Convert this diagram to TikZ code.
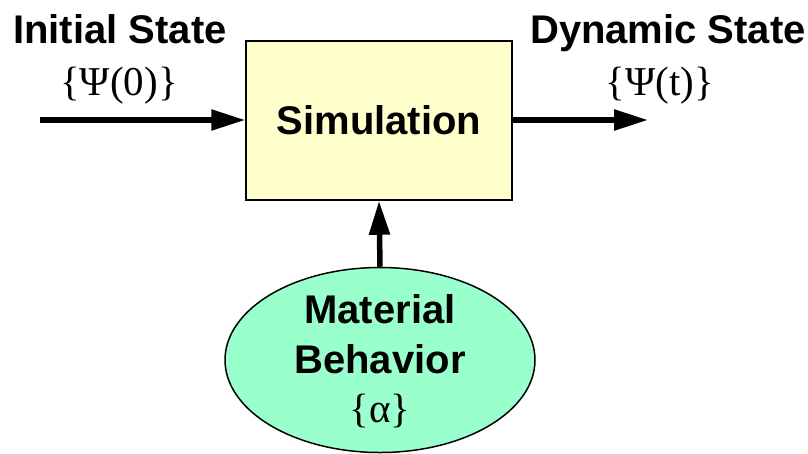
\documentclass[tikz,border=0pt]{standalone}
\usepackage{fontspec}
\setmainfont{Liberation Sans}
\newfontfamily\serif{Liberation Serif}
\usetikzlibrary{shapes.geometric,arrows.meta}
\definecolor{jaune}{HTML}{FFFFCC}
\definecolor{vert}{HTML}{99FFCC}
\begin{document}
\begin{tikzpicture}[x=1pt,y=-1pt,
  bloc/.style={draw, line width=1.5pt, inner sep=0pt},
  etiq/.style={font=\fontsize{40}{50}\selectfont\bfseries, anchor=base},
  math/.style={font=\fontsize{41}{48}\selectfont\serif, anchor=base},
  fleche/.style={line width=5.5pt, -{Triangle[length=34pt,width=20pt]}}]
  \useasboundingbox (0,0) rectangle (808,453);
     % Blocs
  \node[bloc, fill=jaune, minimum width=266pt, minimum height=159pt] (sim) at (379,120.5)
     {\fontsize{40}{50}\selectfont\bfseries Simulation};
  \node[bloc, fill=vert, ellipse, minimum width=310pt, minimum height=185pt] (mat) at (380,360) {};
  \node[etiq] (mat1) at (380,323) {Material};
  \node[etiq] (mat2) at (380,373) {Behavior};
  \node[math] (alpha) at (380,422) {\{α\}};

     % Etats
  \node[etiq] (init) at (120,43) {Initial State};
  \node[math] (psi0) at (119,95) {\{Ψ(0)\}};
  \node[etiq] (dyn) at (668,43) {Dynamic State};
  \node[math] (psit) at (660,95) {\{Ψ(t)\}};

     % Fleches
  \coordinate (in) at (40,120);
  \coordinate (out) at (648,120);
  \draw[fleche] (in) -- (in -| sim.west);
  \draw[fleche] (out -| sim.east) -- (out);
  \draw[fleche] (mat.north) -- (sim.south);
\end{tikzpicture}
\end{document}
